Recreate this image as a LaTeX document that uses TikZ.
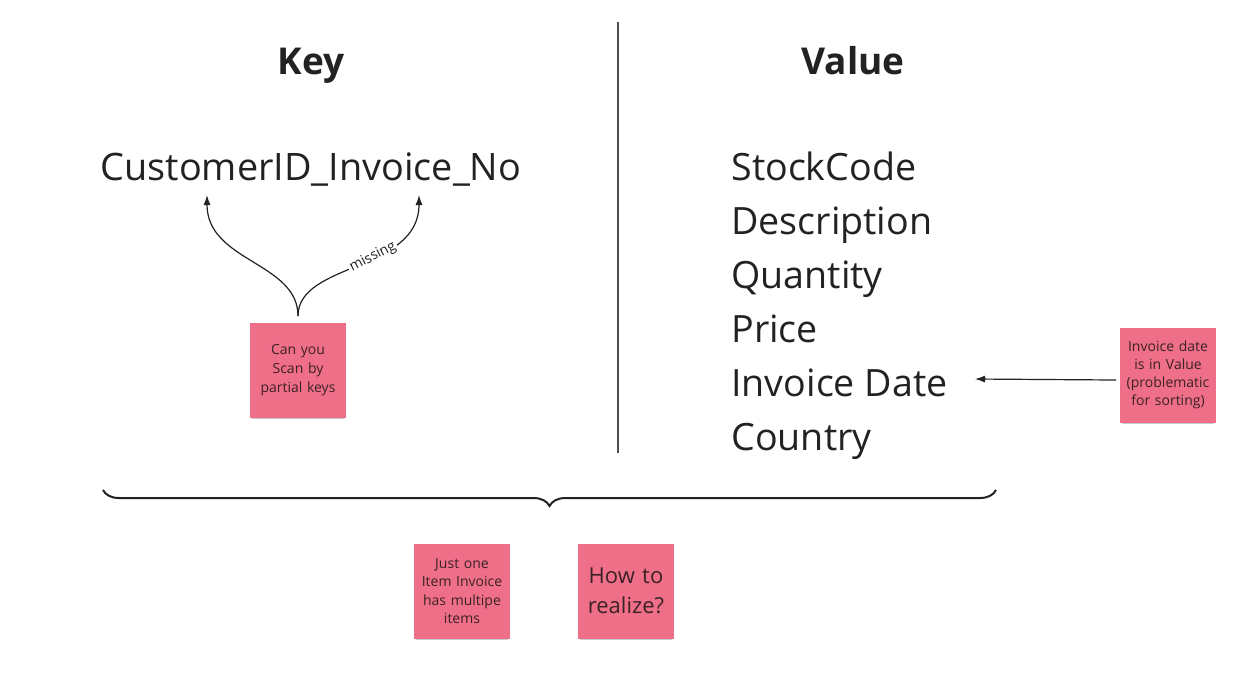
\documentclass[tikz,border=0pt]{standalone}
\usepackage{fontspec}
\setmainfont{Open Sans}
\usetikzlibrary{decorations.pathreplacing,shadows,arrows.meta}
\definecolor{sticky}{HTML}{EF6F88}
\definecolor{stickytext}{HTML}{3A2226}
\definecolor{ink}{HTML}{222222}
\begin{document}
\begin{tikzpicture}[x=0.5pt,y=-0.5pt,
  note/.style={fill=sticky, minimum width=48pt, minimum height=47.5pt, inner sep=1pt,
    align=center, text=stickytext, font=\fontsize{7}{9.3}\selectfont, text width=46pt,
    drop shadow={shadow xshift=0pt, shadow yshift=-2pt, shadow scale=0.96, opacity=0.3, fill=black!70}},
  bigtxt/.style={font=\fontsize{18.9}{22}\selectfont, text=ink, inner sep=0pt, anchor=base},
  title/.style={font=\bfseries\fontsize{18.5}{22}\selectfont, text=ink, inner sep=0pt, anchor=base},
  item/.style={font=\fontsize{18.8}{22}\selectfont, text=ink, inner sep=0pt, anchor=base west},
  conn/.style={draw=ink, line width=0.6pt, -{Latex[length=5pt,width=3.5pt]}}]
\useasboundingbox (0,0) rectangle (1240,677);
\fill[white] (0,0) rectangle (1240,677);

\node[title] (tkey) at (311,74) {Key};
\node[title] (tval) at (853,74) {Value};
\draw[ink!80, line width=0.6pt] (618,22) -- (618,453);

\node[bigtxt] (ckey) at (311,180) {CustomerID\_Invoice\_No};

\node[item] (i1) at (731,180) {StockCode};
\node[item] (i2) at (731,234) {Description};
\node[item] (i3) at (731,288) {Quantity};
\node[item] (i4) at (731,342) {Price};
\node[item] (i5) at (731,396) {Invoice Date};
\node[item] (i6) at (731,450) {Country};

\node[note] (n1) at (298,370) {Can you\\Scan by\\partial keys};
\node[note, font=\fontsize{7}{9}\selectfont] (n2) at (1168,375) {Invoice date\\is in Value\\(problematic\\for sorting)};
\node[note, font=\fontsize{7}{9.2}\selectfont] (n3) at (462,591) {Just one\\Item Invoice\\has multipe\\items};
\node[note, font=\fontsize{11}{15}\selectfont] (n4) at (626,591) {How to\\realize?};

\coordinate (a1) at (207,195);
\coordinate (a2) at (419,195);
\coordinate (s) at (298,316);
\draw[conn] (s) .. controls (298,262) and (207,262) .. (a1);
\draw[conn] (s) .. controls (298,262) and (419,272) .. (a2)
  node[pos=0.58, sloped, fill=white, inner sep=1pt, font=\fontsize{7}{8}\selectfont, text=ink] (miss) {missing};

\coordinate (a3) at (975,379);
\coordinate (b3) at (1116,380);
\draw[conn] (b3) -- (a3);

\coordinate (bl) at (103,490);
\coordinate (br) at (996,490);
\draw[ink, line width=1pt, decoration={brace, amplitude=8pt, mirror}, decorate] (bl) -- (br);
\end{tikzpicture}
\end{document}
